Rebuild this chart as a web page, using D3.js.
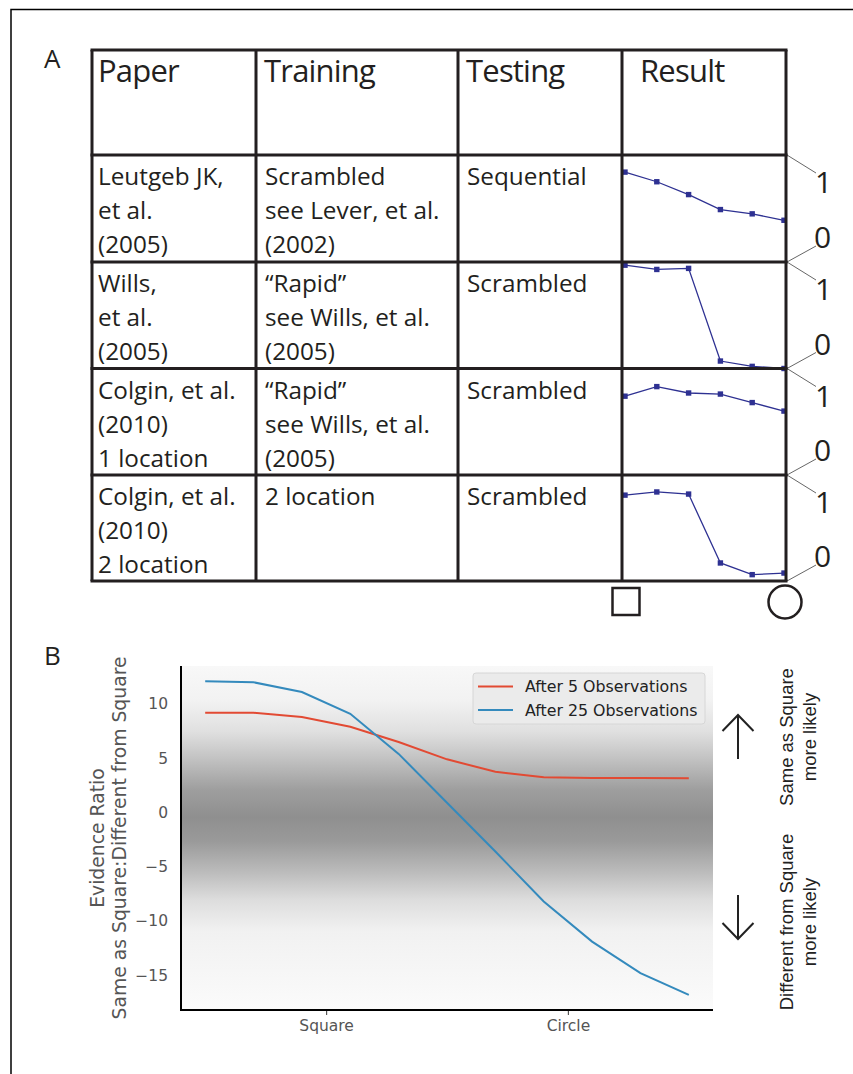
<!DOCTYPE html>
<html>
<head>
<meta charset="utf-8">
<script src="https://cdnjs.cloudflare.com/ajax/libs/d3/7.8.5/d3.min.js"></script>
<style>
  html, body { margin: 0; padding: 0; background: #fff; }
  svg { display: block; }
</style>
</head>
<body>
<svg id="fig"></svg>
<script>
// ---- panel A data ----
var headers = ["Paper", "Training", "Testing", "Result"];
var papers = [
  ["Leutgeb JK,", "et al.", "(2005)"],
  ["Wills,", "et al.", "(2005)"],
  ["Colgin, et al.", "(2010)", "1 location"],
  ["Colgin, et al.", "(2010)", "2 location"]
];
var training = [
  ["Scrambled", "see Lever, et al.", "(2002)"],
  ["\u201cRapid\u201d", "see Wills, et al.", "(2005)"],
  ["\u201cRapid\u201d", "see Wills, et al.", "(2005)"],
  ["2 location"]
];
var testing = ["Sequential", "Scrambled", "Scrambled", "Scrambled"];
var morphSteps = [0, 1, 2, 3, 4, 5];
var resultValues = [
  [0.84, 0.75, 0.63, 0.49, 0.45, 0.39],
  [0.97, 0.93, 0.94, 0.07, 0.02, 0.00],
  [0.74, 0.83, 0.77, 0.76, 0.68, 0.60],
  [0.81, 0.84, 0.82, 0.17, 0.06, 0.075]
];

// ---- panel B data ----
var shapeSteps = [0, 1, 2, 3, 4, 5, 6, 7, 8, 9, 10];
var after5 = [9.2, 9.2, 8.8, 7.9, 6.5, 4.9, 3.75, 3.25, 3.18, 3.17, 3.16];
var after25 = [12.1, 12.0, 11.1, 9.1, 5.4, 0.9, -3.6, -8.2, -11.9, -14.8, -16.8];
var yTicks = [10, 5, 0, -5, -10, -15];
var xTicks = [2.5, 7.5];
var xTickLabels = ["Square", "Circle"];
var seriesNames = ["After 5 Observations", "After 25 Observations"];

var svgWidth = 853;
var svgHeight = 1074;
var ink = "#231f20";

var svg = d3.select("#fig").attr("width", svgWidth).attr("height", svgHeight);

// outer frame (runs off right and bottom)
svg.append("path")
  .attr("d", "M11,1074 L11,9.5 L853,9.5")
  .attr("fill", "none").attr("stroke", "#000").attr("stroke-width", 1.5);

// ================= panel A =================
var tableFont = "'Open Sans', 'Noto Sans', sans-serif";
svg.append("text").attr("x", 44).attr("y", 68)
  .attr("font-family", tableFont).attr("font-size", 26).attr("fill", ink).text("A");

var colX = [92, 256, 458, 622, 786];
var rowY = [50, 155, 262, 368.5, 475, 581];

var tbl = svg.append("g");

// header texts
var headerX = [98, 264, 466, 640];
tbl.selectAll("text.head")
  .data(headers)
  .enter()
  .append("text")
  .attr("class", "head")
  .attr("x", function(d, i) { return headerX[i]; })
  .attr("y", 82)
  .attr("font-family", tableFont)
  .attr("font-size", 31)
  .attr("letter-spacing", -0.8)
  .attr("fill", ink)
  .text(function(d) { return d; });

// body texts
function cellLines(lines, x, r) {
  tbl.selectAll(null)
    .data(lines)
    .enter()
    .append("text")
    .attr("x", x)
    .attr("y", function(d, i) { return rowY[r + 1] + 30 + i * 34; })
    .attr("font-family", tableFont)
    .attr("font-size", 24.3)
    .attr("fill", ink)
    .text(function(d) { return d; });
}
papers.forEach(function(p, r) { cellLines(p, 98, r); });
training.forEach(function(t, r) { cellLines(t, 265, r); });
testing.forEach(function(t, r) { cellLines([t], 467, r); });

// result mini charts
var xMini = d3.scaleLinear().domain([0, 5]).range([625, 784]);
resultValues.forEach(function(vals, r) {
  var yMini = d3.scaleLinear().domain([0, 1]).range([rowY[r + 2], rowY[r + 1]]);
  var line = d3.line()
    .x(function(d, i) { return xMini(morphSteps[i]); })
    .y(function(d) { return yMini(d); });
  tbl.append("path").datum(vals)
    .attr("d", line)
    .attr("fill", "none").attr("stroke", "#2e3192").attr("stroke-width", 1.3);
  tbl.selectAll(null)
    .data(vals)
    .enter()
    .append("rect")
    .attr("x", function(d, i) { return xMini(morphSteps[i]) - 2.7; })
    .attr("y", function(d) { return yMini(d) - 2.7; })
    .attr("width", 5.4).attr("height", 5.4)
    .attr("fill", "#2e3192");

  // 1 / 0 scale labels with leader lines
  var top = rowY[r + 1], bot = rowY[r + 2];
  tbl.append("line").attr("x1", 787).attr("y1", top).attr("x2", 816).attr("y2", top + 18)
    .attr("stroke", "#555").attr("stroke-width", 0.9);
  tbl.append("line").attr("x1", 787).attr("y1", bot).attr("x2", 816).attr("y2", bot - 16)
    .attr("stroke", "#555").attr("stroke-width", 0.9);
  tbl.append("text").attr("x", 815).attr("y", top + 38)
    .attr("font-family", tableFont).attr("font-size", 30).attr("fill", ink).text("1");
  tbl.append("text").attr("x", 814).attr("y", bot - 14)
    .attr("font-family", tableFont).attr("font-size", 30).attr("fill", ink).text("0");
});

// grid lines
tbl.selectAll("line.h")
  .data(rowY)
  .enter()
  .append("line")
  .attr("class", "h")
  .attr("x1", colX[0] - 1.5).attr("x2", colX[4] + 1.5)
  .attr("y1", function(d) { return d; }).attr("y2", function(d) { return d; })
  .attr("stroke", ink).attr("stroke-width", 3);
tbl.selectAll("line.v")
  .data(colX)
  .enter()
  .append("line")
  .attr("class", "v")
  .attr("x1", function(d) { return d; }).attr("x2", function(d) { return d; })
  .attr("y1", rowY[0]).attr("y2", rowY[5])
  .attr("stroke", ink).attr("stroke-width", 3);

// square and circle markers below the result column
svg.append("rect").attr("x", 612.5).attr("y", 588).attr("width", 27).attr("height", 27)
  .attr("fill", "none").attr("stroke", ink).attr("stroke-width", 2.5);
svg.append("circle").attr("cx", 785).attr("cy", 602).attr("r", 16.5)
  .attr("fill", "none").attr("stroke", ink).attr("stroke-width", 2.5);

// ================= panel B =================
svg.append("text").attr("x", 44).attr("y", 665)
  .attr("font-family", tableFont).attr("font-size", 26).attr("fill", ink).text("B");

var plotLeft = 181, plotRight = 713, plotTop = 666, plotBottom = 1010;
var x = d3.scaleLinear().domain([-0.5, 10.5]).range([plotLeft, plotRight]);
var y = d3.scaleLinear().domain([-18.2, 13.5]).range([plotBottom, plotTop]);

// background shading
var defs = svg.append("defs");
var grad = defs.append("linearGradient").attr("id", "shade")
  .attr("x1", 0).attr("y1", 0).attr("x2", 0).attr("y2", 1);
var shadeStops = [
  [0.00, "#f8f8f8"], [0.10, "#f2f2f2"], [0.19, "#e0e0e0"], [0.27, "#c2c2c2"],
  [0.36, "#9e9e9e"], [0.44, "#8f8f8f"], [0.51, "#9a9a9a"], [0.60, "#bcbcbc"],
  [0.68, "#dddddd"], [0.77, "#f1f1f1"], [1.00, "#fbfbfb"]
];
grad.selectAll("stop")
  .data(shadeStops)
  .enter()
  .append("stop")
  .attr("offset", function(d) { return d[0]; })
  .attr("stop-color", function(d) { return d[1]; });
svg.append("rect")
  .attr("x", plotLeft).attr("y", plotTop)
  .attr("width", plotRight - plotLeft).attr("height", plotBottom - plotTop)
  .attr("fill", "url(#shade)");

var axisFont = "'DejaVu Sans', sans-serif";
var gray = "#555555";

// y axis
var yAxis = svg.append("g")
  .attr("transform", "translate(" + plotLeft + ",0)")
  .call(d3.axisLeft(y).tickValues(yTicks).tickSize(0).tickPadding(13)
    .tickFormat(function(d) { return d < 0 ? "\u2212" + Math.abs(d) : d; }));
yAxis.select(".domain").remove();
yAxis.selectAll("text").attr("font-family", axisFont).attr("font-size", 15.5).attr("fill", gray);

// x axis
var xAxis = svg.append("g")
  .attr("transform", "translate(0," + plotBottom + ")")
  .call(d3.axisBottom(x).tickValues(xTicks).tickSize(5).tickPadding(5)
    .tickFormat(function(d, i) { return xTickLabels[i]; }));
xAxis.select(".domain").remove();
xAxis.selectAll("line").attr("stroke", gray).attr("stroke-width", 1.2);
xAxis.selectAll("text").attr("font-family", axisFont).attr("font-size", 15.5).attr("fill", gray);

// spines
svg.append("line").attr("x1", plotLeft).attr("x2", plotLeft).attr("y1", plotTop).attr("y2", plotBottom + 1)
  .attr("stroke", "#000").attr("stroke-width", 2);
svg.append("line").attr("x1", plotLeft - 1).attr("x2", plotRight).attr("y1", plotBottom).attr("y2", plotBottom)
  .attr("stroke", "#000").attr("stroke-width", 2);

// y label
var ylab = svg.append("text")
  .attr("transform", "translate(104," + ((plotTop + plotBottom) / 2) + ") rotate(-90)")
  .attr("text-anchor", "middle")
  .attr("font-family", axisFont).attr("font-size", 18.8).attr("fill", gray);
ylab.append("tspan").attr("x", 0).attr("dy", 0).text("Evidence Ratio");
ylab.append("tspan").attr("x", 0).attr("dy", 22).text("Same as Square:Different from Square");

// lines
var colors = ["#e24a33", "#348abd"];
var seriesData = [after5, after25];
var lineGen = d3.line()
  .x(function(d, i) { return x(shapeSteps[i]); })
  .y(function(d) { return y(d); });
svg.selectAll("path.series")
  .data(seriesData)
  .enter()
  .append("path")
  .attr("class", "series")
  .attr("d", lineGen)
  .attr("fill", "none")
  .attr("stroke", function(d, i) { return colors[i]; })
  .attr("stroke-width", 2);

// legend
var leg = svg.append("g").attr("transform", "translate(473,673)");
leg.append("rect").attr("width", 232).attr("height", 51).attr("rx", 3)
  .attr("fill", "#ebebeb").attr("stroke", "#d6d6d6").attr("stroke-width", 1);
var legItem = leg.selectAll("g.item")
  .data(seriesNames)
  .enter()
  .append("g")
  .attr("class", "item")
  .attr("transform", function(d, i) { return "translate(0," + (13.5 + i * 23.5) + ")"; });
legItem.append("line").attr("x1", 5).attr("x2", 40).attr("y1", 0).attr("y2", 0)
  .attr("stroke", function(d, i) { return colors[i]; }).attr("stroke-width", 2.2);
legItem.append("text").attr("x", 52).attr("y", 5.5)
  .attr("font-family", axisFont).attr("font-size", 15.8).attr("fill", "#222")
  .text(function(d) { return d; });

// arrows on the right
var arrowX = 738;
svg.append("path")
  .attr("d", "M" + arrowX + ",759 L" + arrowX + ",715 M" + (arrowX - 15.5) + ",731 L" + arrowX + ",715 L" + (arrowX + 15.5) + ",731")
  .attr("fill", "none").attr("stroke", "#222").attr("stroke-width", 2);
svg.append("path")
  .attr("d", "M" + arrowX + ",895 L" + arrowX + ",939 M" + (arrowX - 15.5) + ",923 L" + arrowX + ",939 L" + (arrowX + 15.5) + ",923")
  .attr("fill", "none").attr("stroke", "#222").attr("stroke-width", 2);

var noteFont = "'Liberation Sans', Arial, sans-serif";
function note(cy, lines) {
  var t = svg.append("text")
    .attr("transform", "translate(793," + cy + ") rotate(-90)")
    .attr("text-anchor", "middle")
    .attr("font-family", noteFont).attr("font-size", 18.5).attr("fill", "#222");
  t.append("tspan").attr("x", 0).attr("dy", 0).text(lines[0]);
  t.append("tspan").attr("x", 0).attr("dy", 23).text(lines[1]);
}
note(737, ["Same as Square", "more likely"]);
note(922, ["Different from Square", "more likely"]);
</script>
</body>
</html>
